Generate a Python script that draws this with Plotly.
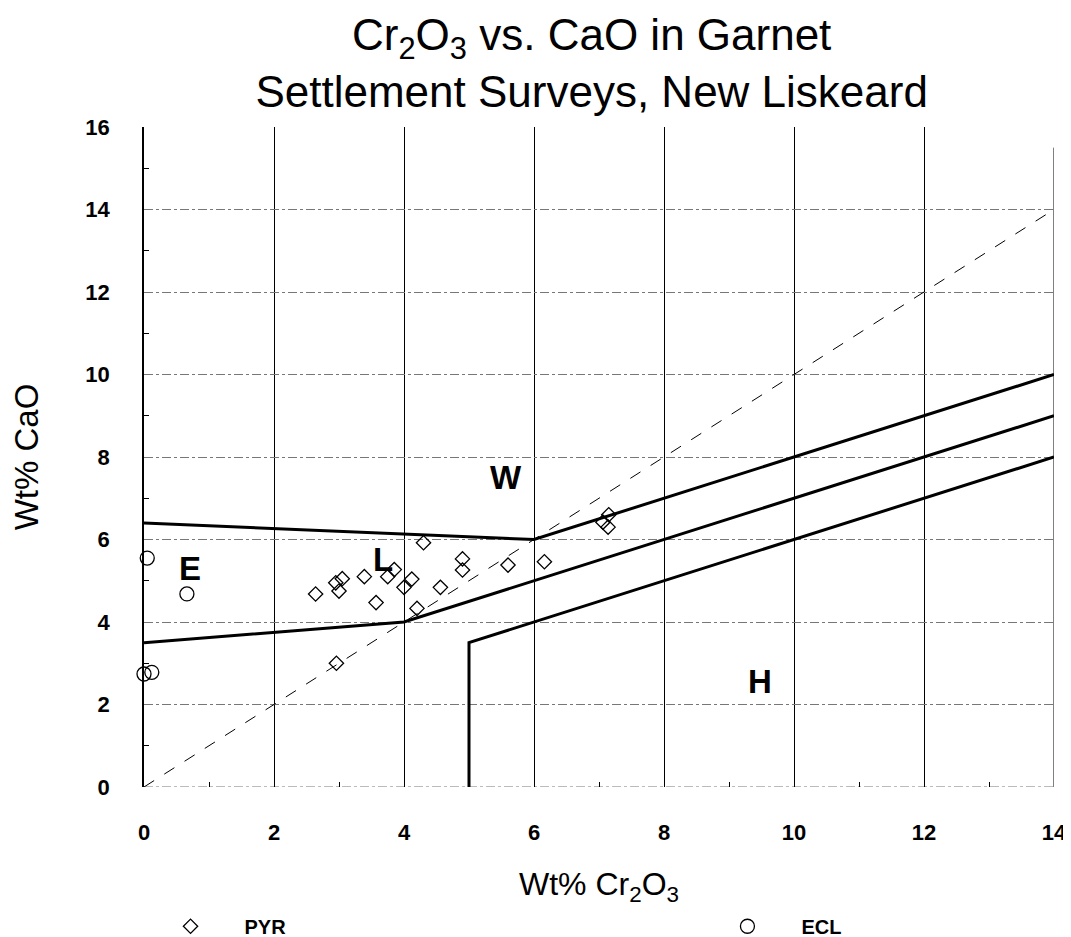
import plotly.graph_objects as go

# PYR (diamonds): Cr2O3, CaO
pyr_x = [2.64, 2.95, 3.05, 3.0, 3.39, 3.57, 3.75, 3.85, 4.0, 4.12, 4.2, 4.3, 4.56, 4.9, 4.9, 5.6, 6.16, 7.06, 7.15, 7.14, 2.96]
pyr_y = [4.68, 4.95, 5.05, 4.75, 5.1, 4.47, 5.1, 5.27, 4.84, 5.04, 4.33, 5.92, 4.84, 5.53, 5.26, 5.38, 5.46, 6.42, 6.6, 6.3, 3.0]
# ECL (circles)
ecl_x = [0.05, 0.66, 0.0, 0.12]
ecl_y = [5.55, 4.68, 2.74, 2.78]

# Field boundaries
upper_x = [0, 6, 14]
upper_y = [6.4, 6.0, 10]
lower_x = [0, 4, 14]
lower_y = [3.5, 4, 9]
h_x = [5, 5, 14]
h_y = [0, 3.5, 8]
diag_x = [0, 14]
diag_y = [0, 14]

labels = ["E", "L", "W", "H"]
label_x = [0.7, 3.68, 5.57, 9.47]
label_y = [5.3, 5.52, 7.5, 2.55]

X_MAX = 14
Y_MAX = 16

FONT = "Liberation Sans, Arial, sans-serif"

fig = go.Figure()
for xs, ys in [(upper_x, upper_y), (lower_x, lower_y), (h_x, h_y)]:
    fig.add_trace(go.Scatter(x=xs, y=ys, mode="lines", line=dict(color="black", width=3),
                             showlegend=False, hoverinfo="skip"))
fig.add_trace(go.Scatter(x=diag_x, y=diag_y, mode="lines",
                         line=dict(color="black", width=1, dash="12px,12px"),
                         showlegend=False, hoverinfo="skip"))
fig.add_trace(go.Scatter(x=pyr_x, y=pyr_y, mode="markers", name="PYR", cliponaxis=False,
                         legend="legend",
                         marker=dict(symbol="diamond-open", size=11, color="black",
                                     line=dict(width=1.3, color="black"))))
fig.add_trace(go.Scatter(x=ecl_x, y=ecl_y, mode="markers", name="ECL", cliponaxis=False,
                         legend="legend2",
                         marker=dict(symbol="circle-open", size=14, color="black",
                                     line=dict(width=1.3, color="black"))))

for t, x, y in zip(labels, label_x, label_y):
    fig.add_annotation(x=x, y=y, text=t, showarrow=False,
                       font=dict(family=FONT, size=33, color="black", weight="bold"))

# bottom dash-dot frame line and right-hand vertical frame line
fig.add_shape(type="line", xref="x", yref="y", x0=0, x1=X_MAX, y0=0, y1=0,
              line=dict(color="#777", width=1, dash="dashdot"), layer="below")
fig.add_shape(type="line", xref="x", yref="y", x0=X_MAX, x1=X_MAX, y0=0, y1=Y_MAX - 0.5,
              line=dict(color="black", width=1), layer="below")

leg_common = dict(orientation="h", yref="container", y=0.02, yanchor="middle",
                  xref="container", xanchor="left", itemwidth=98,
                  bgcolor="rgba(0,0,0,0)",
                  font=dict(family=FONT, size=20, weight="bold"))

fig.update_layout(
    width=1071, height=937,
    margin=dict(l=136, r=25, t=119, b=158, autoexpand=False),
    paper_bgcolor="white", plot_bgcolor="white",
    font=dict(family=FONT, color="black"),
    title=dict(text="Cr<sub>2</sub>O<sub>3</sub> vs. CaO in Garnet<br>Settlement Surveys, New Liskeard",
               x=0.545, xanchor="center", yref="container", y=0.955, yanchor="top",
               font=dict(family=FONT, size=44, color="black")),
    xaxis=dict(range=[0, X_MAX], dtick=2, tick0=0, showgrid=True, gridcolor="black", gridwidth=1,
               zeroline=False, showline=False, ticks="", ticklabelstandoff=30,
               automargin=False,
               tickfont=dict(family=FONT, size=22, weight="bold"),
               minor=dict(dtick=1, ticks="inside", ticklen=5, tickcolor="black", showgrid=False),
               title=dict(text="Wt% Cr<sub>2</sub>O<sub>3</sub>", standoff=28,
                          font=dict(family=FONT, size=32))),
    yaxis=dict(range=[0, Y_MAX], dtick=2, tick0=0, showgrid=True, gridcolor="#777", gridwidth=1,
               griddash="dashdot", zeroline=False, showline=True, linecolor="black", linewidth=1.5,
               ticks="", ticklabelstandoff=28, automargin=False,
               tickfont=dict(family=FONT, size=22, weight="bold"),
               minor=dict(dtick=1, ticks="inside", ticklen=5, tickcolor="black", showgrid=False),
               title=dict(text="Wt% CaO", standoff=38, font=dict(family=FONT, size=33))),
    legend=dict(leg_common, x=0.12),
    legend2=dict(leg_common, x=0.64),
)

fig.write_html("out.html")
